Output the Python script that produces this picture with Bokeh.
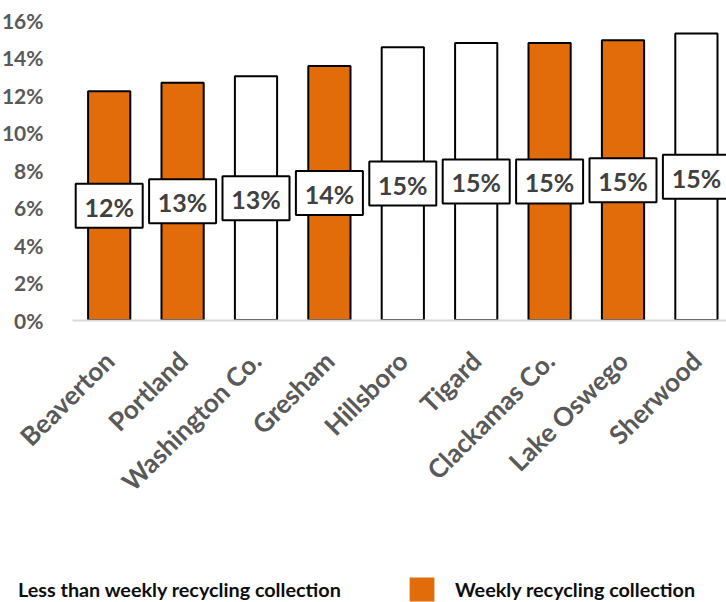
import math
from bokeh.plotting import figure
from bokeh.models import (Range1d, FixedTicker, PrintfTickFormatter, Legend, LegendItem,
                          ColumnDataSource)
from bokeh.core.properties import value
from bokeh.embed import file_html
from bokeh.resources import INLINE

# ---- data ----
cities = ["Beaverton", "Portland", "Washington Co.", "Gresham", "Hillsboro",
          "Tigard", "Clackamas Co.", "Lake Oswego", "Sherwood"]
rates = [12.2, 12.66, 13.0, 13.55, 14.55, 14.78, 14.78, 14.92, 15.28]
weekly = [True, True, False, True, False, False, True, True, False]
y_ticks = [0, 2, 4, 6, 8, 10, 12, 14, 16]
legend_less = "Less than weekly recycling collection"
legend_weekly = "Weekly recycling collection"

ORANGE = "#E36C0A"
FONT = "Lato"

idx = list(range(len(cities)))
colors = [ORANGE if w else "#FFFFFF" for w in weekly]
labels = [f"{r:.0f}%" for r in rates]
src = ColumnDataSource(dict(x=idx, top=rates, mid=[r / 2 for r in rates],
                            color=colors, label=labels))

# ---- layout geometry (pixels) ----
W, H = 726, 602
PX_X = 73.4        # pixels per category
PX_Y = 18.75       # pixels per percent
LEFT = 72          # x = -0.5 sits this far from the canvas left
TOP = 19.5         # 16% sits this far from the canvas top
x0 = -0.5 - LEFT / PX_X
x1 = x0 + W / PX_X
y1 = 16 + TOP / PX_Y
y0 = y1 - H / PX_Y

p = figure(width=W, height=H, output_backend="svg", toolbar_location=None,
           x_range=Range1d(x0, x1), y_range=Range1d(y0, y1), min_border=0)
p.min_border_left = p.min_border_right = p.min_border_top = p.min_border_bottom = 0
p.outline_line_color = None
p.grid.visible = False
p.background_fill_color = "white"
p.border_fill_color = "white"

p.vbar(x="x", top="top", bottom=0, width=0.575, source=src, fill_color="color",
       line_color="black", line_width=2)

p.rect(x="x", y="mid", width=67, height=44, width_units="screen", height_units="screen",
       source=src, fill_color="white", line_color="black", line_width=2)
p.text(x="x", y="mid", text="label", source=src, text_align="center",
       text_baseline="middle", text_font=value(FONT), text_font_style="bold",
       text_font_size="25px", text_color="#404040", y_offset=1)

# axes (kept in their side lists, drawn at fixed data locations)
xa = p.xaxis[0]
xa.fixed_location = 0
xa.bounds = (-0.5, x1)
xa.ticker = FixedTicker(ticks=idx)
xa.major_label_overrides = {i: c for i, c in zip(idx, cities)}
xa.major_label_orientation = math.pi / 4
xa.major_label_text_font = FONT
xa.major_label_text_font_style = "bold"
xa.major_label_text_font_size = "26px"
xa.major_label_text_color = "#595959"
xa.major_tick_line_color = None
xa.minor_tick_line_color = None
xa.axis_line_color = "#D9D9D9"
xa.axis_line_width = 2
xa.major_label_standoff = 30

ya = p.yaxis[0]
ya.fixed_location = -0.5
ya.bounds = (0, 16)
ya.ticker = FixedTicker(ticks=y_ticks)
ya.formatter = PrintfTickFormatter(format="%d%%")
ya.major_label_text_font = FONT
ya.major_label_text_font_style = "bold"
ya.major_label_text_font_size = "21px"
ya.major_label_text_color = "#595959"
ya.major_tick_line_color = None
ya.minor_tick_line_color = None
ya.axis_line_color = None
ya.major_label_standoff = 23

# ---- legend (two one-item legends on one line at the bottom) ----
nan = float("nan")
proxy_less = p.rect(x=[nan], y=[nan], width=1, height=1, fill_alpha=0, line_alpha=0)
proxy_weekly = p.rect(x=[nan], y=[nan], width=1, height=1, fill_color=ORANGE,
                      line_color=None)

common = dict(orientation="horizontal", border_line_color=None, background_fill_alpha=0,
              padding=0, margin=0, label_text_font=FONT, label_text_font_style="bold",
              label_text_font_size="19.8px", label_text_color="#0D0D0D", glyph_height=30,
              label_height=30)

leg1 = Legend(items=[LegendItem(label=legend_less, renderers=[proxy_less])],
              location=(18, -2), glyph_width=0, label_standoff=0, **common)
leg2 = Legend(items=[LegendItem(label=legend_weekly, renderers=[proxy_weekly])],
              location=(406, -2), glyph_width=31, label_standoff=18, **common)
p.add_layout(leg1, "center")
p.add_layout(leg2, "center")

open("out.html", "w").write(file_html(p, INLINE))
